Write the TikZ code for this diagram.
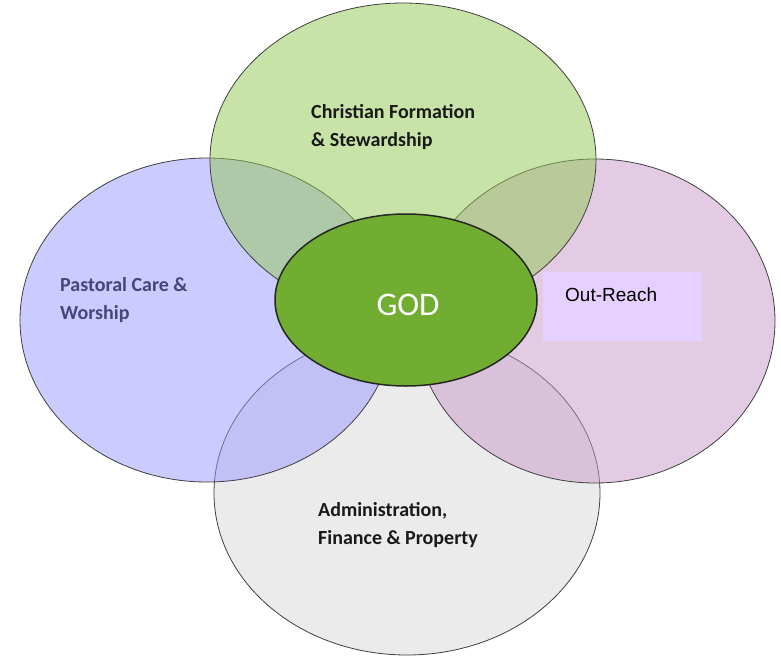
\documentclass[tikz,border=0pt]{standalone}
\usepackage{fontspec}
\setmainfont{Carlito}
\newfontfamily\arialfont{Liberation Sans}
\usetikzlibrary{shapes.geometric}
\definecolor{cgreen}{RGB}{145,201,81}
\definecolor{cblue}{RGB}{153,153,255}
\definecolor{cpink}{RGB}{201,153,201}
\definecolor{cgray}{RGB}{235,235,235}
\definecolor{cgod}{RGB}{112,173,48}
\definecolor{cedge}{RGB}{64,64,64}
\definecolor{cbox}{RGB}{230,208,255}
\definecolor{cpurpletext}{RGB}{70,70,125}
\tikzset{
  petal/.style={ellipse, draw=cedge, line width=0.8bp, inner sep=0pt},
  lbl/.style={anchor=base west, inner sep=0pt, font=\bfseries\fontsize{20bp}{28bp}\selectfont, align=left},
}
\begin{document}
\begin{tikzpicture}[x=1bp,y=-1bp]
\useasboundingbox[fill=white] (0,0) rectangle (781,656);
\node[petal, fill=cgray, minimum width=386bp, minimum height=324bp] (bottom) at (407,493) {};
\node[petal, fill=cblue, fill opacity=0.5, minimum width=374bp, minimum height=324bp] (left) at (207,320) {};
\node[petal, fill=cpink, fill opacity=0.5, minimum width=360bp, minimum height=324bp] (right) at (595,321) {};
\node[petal, fill=cgreen, fill opacity=0.5, minimum width=386bp, minimum height=314bp] (top) at (403,160) {};
\node[ellipse, draw=black!85, line width=1.5bp, fill=cgod, inner sep=0pt, minimum width=262bp, minimum height=172bp] (god) at (406,300) {};
\node[anchor=base, inner sep=0pt, text=white, font=\fontsize{33bp}{36bp}\selectfont] (godtext) at (408,315) {GOD};
\node[lbl, text=black!90] (toptext) at (311,147) {Christian Formation\\\& Stewardship};
\node[lbl, text=cpurpletext] (lefttext) at (60,319) {Pastoral Care \&\\Worship};
\node[lbl, text=black!90] (bottomtext) at (318,544) {Administration,\\Finance \& Property};
\fill[cbox] (543,272) rectangle (702,341);
\node[anchor=base west, inner sep=0pt, font=\arialfont\fontsize{19bp}{22bp}\selectfont] (outreach) at (565,301) {Out-Reach};
\end{tikzpicture}
\end{document}
